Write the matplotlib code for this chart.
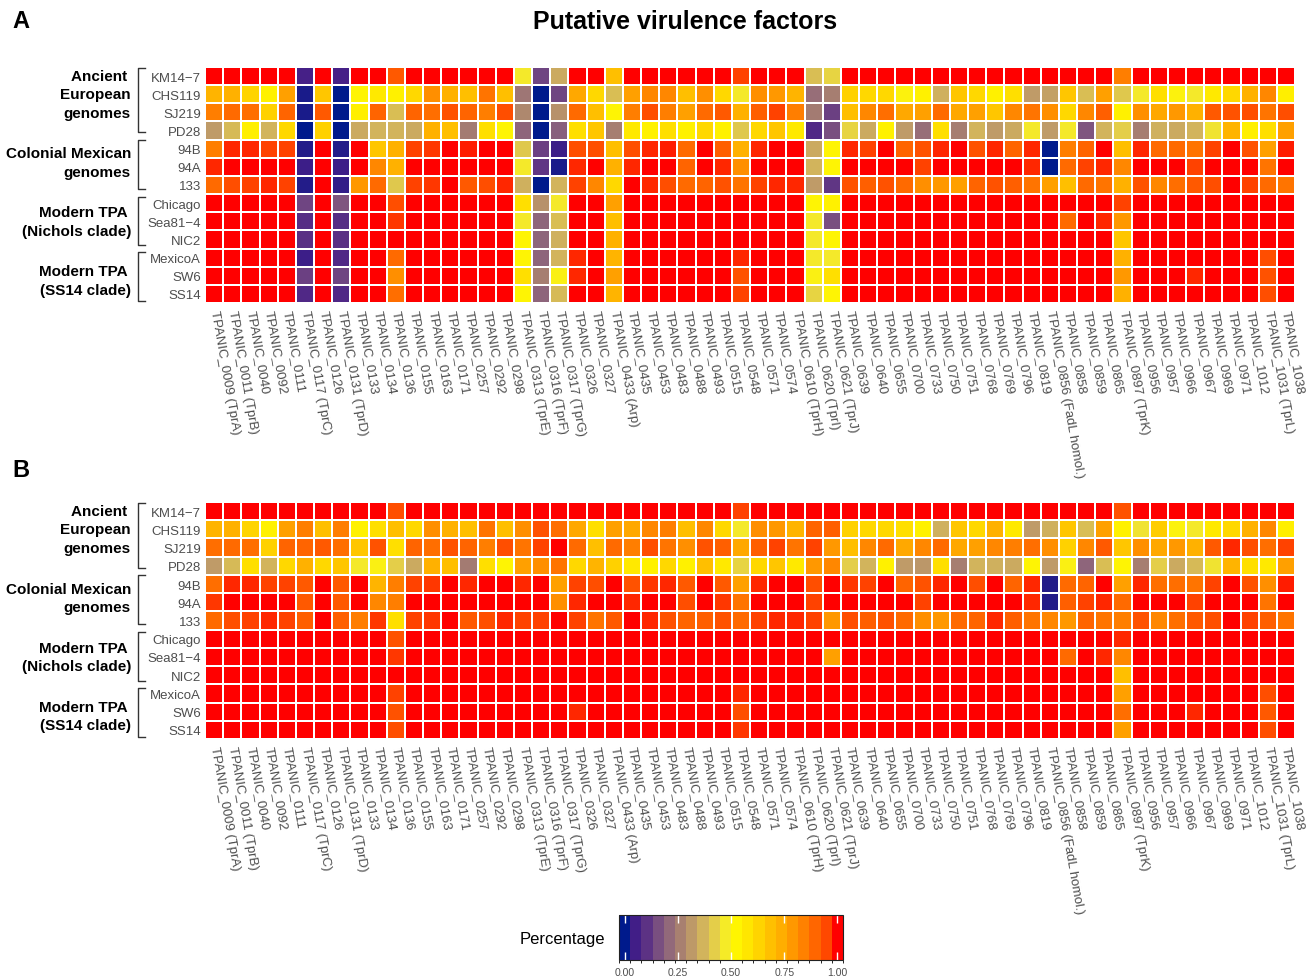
import numpy as np
import matplotlib
matplotlib.use("Agg")
import matplotlib.pyplot as plt
from matplotlib.colors import LinearSegmentedColormap, ListedColormap, BoundaryNorm
from matplotlib.transforms import blended_transform_factory
from matplotlib.cm import ScalarMappable

plt.rcParams['font.family'] = ['Liberation Sans', 'DejaVu Sans']

genes = ["TPANIC_0009 (TprA)", "TPANIC_0011 (TprB)", "TPANIC_0040", "TPANIC_0092", "TPANIC_0111",
         "TPANIC_0117 (TprC)", "TPANIC_0126", "TPANIC_0131 (TprD)", "TPANIC_0133", "TPANIC_0134",
         "TPANIC_0136", "TPANIC_0155", "TPANIC_0163", "TPANIC_0171", "TPANIC_0257",
         "TPANIC_0292", "TPANIC_0298", "TPANIC_0313 (TprE)", "TPANIC_0316 (TprF)", "TPANIC_0317 (TprG)",
         "TPANIC_0326", "TPANIC_0327", "TPANIC_0433 (Arp)", "TPANIC_0435", "TPANIC_0453",
         "TPANIC_0483", "TPANIC_0488", "TPANIC_0493", "TPANIC_0515", "TPANIC_0548",
         "TPANIC_0571", "TPANIC_0574", "TPANIC_0610 (TprH)", "TPANIC_0620 (TprI)", "TPANIC_0621 (TprJ)",
         "TPANIC_0639", "TPANIC_0640", "TPANIC_0655", "TPANIC_0700", "TPANIC_0733",
         "TPANIC_0750", "TPANIC_0751", "TPANIC_0768", "TPANIC_0769", "TPANIC_0796",
         "TPANIC_0819", "TPANIC_0856 (FadL homol.)", "TPANIC_0858", "TPANIC_0859", "TPANIC_0865",
         "TPANIC_0897 (TprK)", "TPANIC_0956", "TPANIC_0957", "TPANIC_0966", "TPANIC_0967",
         "TPANIC_0969", "TPANIC_0971", "TPANIC_1012", "TPANIC_1031 (TprL)", "TPANIC_1038"]

strains = ["KM14\u22127", "CHS119", "SJ219", "PD28", "94B", "94A", "133",
           "Chicago", "Sea81\u22124", "NIC2", "MexicoA", "SW6", "SS14"]

group_labels = ["Ancient \nEuropean\ngenomes", "Colonial Mexican\ngenomes",
                "Modern TPA \n(Nichols clade)", "Modern TPA \n(SS14 clade)"]

# percentage values (0-100), panel A
pct_A = [
    [100,100,100,100,100,6,100,6,100,100,92,100,100,100,100,
     100,100,47,14,35,100,100,69,100,100,100,100,100,100,95,
     100,100,100,39,43,100,100,100,100,100,100,100,100,100,100,
     100,100,100,100,100,85,100,100,100,100,100,100,100,100,100],
    [72,73,63,54,77,2,67,0,52,57,54,62,81,73,69,
     87,69,24,0,14,75,62,39,77,83,83,69,81,62,47,
     81,79,72,22,26,64,62,62,51,54,36,67,62,54,60,
     32,33,67,39,77,41,47,60,51,47,57,62,73,83,55],
    [85,89,88,64,90,2,92,0,55,90,39,90,88,93,90,
     85,94,28,0,30,89,69,52,85,94,85,77,89,92,73,
     91,95,85,25,13,69,83,88,75,77,89,75,77,67,83,
     87,81,62,83,91,54,81,75,79,73,92,93,94,87,94],
    [32,38,55,37,62,0,64,0,35,37,37,35,73,69,25,
     60,52,20,0,19,60,67,26,57,54,60,54,62,54,41,
     62,67,57,8,16,43,35,54,32,22,60,26,37,32,35,
     47,32,47,17,37,42,26,36,35,37,46,72,55,60,77],
    [85,97,97,95,95,3,100,3,100,67,73,95,96,100,98,
     100,100,41,13,5,94,94,69,94,97,98,89,100,91,73,
     97,100,100,35,52,97,95,100,90,93,97,100,93,97,90,
     97,0,85,90,100,69,97,89,89,87,95,100,93,77,98],
    [97,100,100,100,100,5,100,5,100,83,73,100,100,100,100,
     100,100,47,11,2,97,100,73,97,100,100,90,100,97,81,
     100,100,100,37,52,100,100,100,100,95,100,100,100,100,100,
     97,0,89,95,97,83,100,100,100,95,100,100,100,87,100],
    [89,94,95,97,95,3,100,4,79,89,41,95,96,100,92,
     94,97,36,0,37,95,83,62,100,97,94,89,90,93,87,
     95,97,97,32,11,93,91,93,89,81,79,77,90,93,91,
     87,77,69,89,87,73,93,83,88,92,94,100,95,89,87],
    [100,100,100,100,100,14,100,17,100,100,94,100,100,100,100,
     100,100,60,30,47,100,100,77,100,100,100,100,100,100,100,
     100,100,100,52,54,100,100,100,100,100,100,100,100,100,100,
     100,100,100,100,100,95,100,100,100,100,100,100,100,100,100],
    [100,100,100,100,100,9,100,9,100,100,96,100,100,100,100,
     100,100,47,20,39,100,100,69,100,100,100,100,100,100,100,
     100,100,100,47,16,100,100,100,100,100,100,100,100,100,100,
     100,100,89,100,97,79,100,100,100,100,100,100,100,100,100],
    [100,100,100,100,100,10,100,10,100,100,100,100,100,100,100,
     100,100,52,20,36,100,100,73,100,100,100,100,100,100,100,
     100,100,100,47,52,100,100,100,100,100,100,100,100,100,100,
     100,100,100,100,100,67,100,100,100,100,100,100,100,100,100],
    [100,100,100,100,100,5,100,8,100,100,89,100,100,100,100,
     100,100,52,20,37,97,100,72,100,100,100,100,100,100,97,
     100,100,100,47,47,100,100,100,100,100,100,100,100,100,100,
     100,100,100,100,100,73,100,100,100,100,100,100,100,94,100],
    [100,100,100,100,100,13,100,14,100,100,81,100,100,100,100,
     100,100,60,26,50,97,100,77,100,100,100,100,100,100,93,
     100,100,100,50,60,100,100,100,100,100,100,100,100,100,100,
     100,100,100,100,100,79,100,100,100,97,100,100,100,93,100],
    [100,100,100,100,100,8,100,8,100,100,88,100,100,100,100,
     100,100,52,20,38,100,100,72,100,100,100,100,100,100,95,
     100,100,100,43,52,100,100,100,100,100,100,100,100,100,100,
     100,100,100,100,100,73,100,100,100,100,100,100,100,94,100],
]

# percentage values (0-100), panel B
pct_B = [
    [100,100,100,100,100,100,100,100,100,100,94,100,100,100,100,
     100,100,100,100,100,100,100,100,100,100,100,100,100,100,95,
     100,100,100,100,100,100,100,100,100,100,100,100,100,100,100,
     100,100,100,100,100,93,100,100,100,100,100,100,100,100,100],
    [72,73,63,54,77,85,69,85,54,60,69,62,81,73,69,
     87,69,81,93,88,75,60,77,75,83,85,69,83,62,47,
     81,79,72,90,91,64,62,62,60,54,36,67,62,73,57,
     32,36,67,39,77,54,46,65,51,47,57,62,73,83,55],
    [88,89,88,64,90,90,92,88,67,93,60,90,88,93,90,
     85,94,87,95,100,89,69,89,85,94,87,81,93,91,75,
     91,95,87,95,79,69,83,89,75,83,89,75,77,83,85,
     88,81,64,83,92,67,81,75,79,73,92,97,94,88,95],
    [32,38,60,37,62,73,62,67,47,50,42,35,73,69,25,
     60,52,77,81,87,62,72,64,57,54,62,54,69,57,43,
     62,67,57,79,83,42,37,54,32,31,60,26,37,36,35,
     52,32,50,20,39,52,26,42,35,38,46,72,60,57,77],
    [88,97,97,95,95,92,100,92,100,72,85,95,96,100,97,
     100,100,97,100,77,95,94,100,93,96,97,92,100,92,77,
     97,100,100,94,100,96,95,100,90,93,97,100,94,100,90,
     97,3,89,90,100,77,97,88,88,87,95,100,93,81,98],
    [96,100,100,100,100,92,100,92,100,83,85,100,100,100,100,
     100,100,100,100,81,97,100,100,97,100,100,94,100,96,87,
     100,100,100,95,100,100,100,100,100,95,100,100,100,100,100,
     97,3,91,95,97,89,100,100,100,95,100,100,100,87,100],
    [89,94,95,97,95,91,100,91,85,96,60,95,96,100,92,
     94,97,95,95,100,95,87,92,100,97,93,90,91,93,89,
     95,97,97,95,79,94,91,93,89,81,79,89,90,97,91,
     87,83,79,90,87,85,93,83,88,92,94,100,95,91,87],
    [100,100,100,100,100,100,100,100,100,100,93,100,100,100,100,
     100,100,100,100,100,100,100,100,100,100,100,100,100,100,100,
     100,100,100,100,100,100,100,100,100,100,100,100,100,100,100,
     100,100,100,100,100,97,100,100,100,100,100,100,100,100,100],
    [100,100,100,100,100,100,100,100,100,100,96,100,100,100,100,
     100,100,100,100,100,100,100,100,100,100,100,100,100,100,100,
     100,100,100,100,77,100,100,100,100,100,100,100,100,100,100,
     100,100,89,100,97,83,100,100,100,100,100,100,100,100,100],
    [100,100,100,100,100,100,100,100,100,100,100,100,100,100,100,
     100,100,100,100,100,100,100,100,100,100,100,100,100,100,100,
     100,100,100,100,100,100,100,100,100,100,100,100,100,100,100,
     100,100,100,100,100,69,100,100,100,100,100,100,100,100,100],
    [100,100,100,100,100,100,100,100,100,100,95,100,100,100,100,
     100,100,100,100,100,100,100,100,100,100,100,100,100,100,97,
     100,100,100,100,100,100,100,100,100,100,100,100,100,100,100,
     100,100,100,100,100,77,100,100,100,100,100,100,100,94,100],
    [100,100,100,100,100,100,100,100,100,100,93,100,100,100,100,
     100,100,100,100,100,97,100,100,100,100,100,100,100,100,94,
     100,100,100,100,100,100,100,100,100,100,100,100,100,100,100,
     100,100,100,100,100,88,100,100,100,97,100,100,100,92,100],
    [100,100,100,100,100,100,100,100,100,100,94,100,100,100,100,
     100,100,100,100,100,100,100,100,100,100,100,100,100,100,96,
     100,100,100,100,100,100,100,100,100,100,100,100,100,100,100,
     100,100,100,100,100,77,100,100,100,100,100,100,100,94,100],
]

cbar_ticks = [0.0, 0.25, 0.5, 0.75, 1.0]

palette = ['#001A8C', '#431E87', '#5E3384', '#7A5080', '#936A7A', '#A88070', '#BE9A68',
           '#D2B45C', '#E4CF48', '#F5EB28', '#FFF500', '#FFE600', '#FFD400', '#FFC100',
           '#FFAE00', '#FF9900', '#FF8200', '#FF6800', '#FF4A00', '#FF0000']
cmap = LinearSegmentedColormap.from_list('pct', list(zip(np.linspace(0, 1, len(palette)), palette)))

# layout (row units) for group labels and brackets
label_y = [1.5, 5.25, 8.5, 11.75]
bracket_top = [0.05, 4.0, 7.15, 10.2]
bracket_bot = [3.6, 6.7, 9.8, 12.9]

W, H = 1309, 978
fig = plt.figure(figsize=(W / 100, H / 100), dpi=100)

LABEL_GRAY = '#4D4D4D'


def draw_panel(top_px, bottom_px, mat):
    ax = fig.add_axes([205 / W, 1 - bottom_px / H, (1295 - 205) / W, (bottom_px - top_px) / H])
    data = np.array(mat, dtype=float) / 100.0
    ax.pcolormesh(np.arange(len(genes) + 1), np.arange(len(strains) + 1), data,
                  cmap=cmap, vmin=0, vmax=1, edgecolors='white', linewidth=1.1)
    ax.set_xlim(0, len(genes))
    ax.set_ylim(len(strains), 0)
    ax.set_xticks(np.arange(len(genes)) + 0.5)
    ax.set_xticklabels(genes, rotation=-80, ha='left', va='center', rotation_mode='anchor',
                       fontsize=9.5, color=LABEL_GRAY)
    ax.set_yticks(np.arange(len(strains)) + 0.5)
    ax.set_yticklabels(strains, fontsize=9.5, color=LABEL_GRAY)
    ax.tick_params(length=0)
    ax.tick_params(axis='x', pad=5)
    ax.tick_params(axis='y', pad=3)
    for s in ax.spines.values():
        s.set_visible(False)
    trans = blended_transform_factory(fig.transFigure, ax.transData)
    for lab, ly, y0, y1 in zip(group_labels, label_y, bracket_top, bracket_bot):
        ax.text(131 / W, ly, lab, transform=trans, ha='right', va='center',
                multialignment='right', fontsize=11, fontweight='bold', linespacing=1.4,
                color='black')
        xs = [145 / W, 138 / W, 138 / W, 145 / W]
        ys = [y0, y0, y1, y1]
        ax.plot(xs, ys, transform=trans, color='#333333', lw=1.0, clip_on=False)
    return ax


axA = draw_panel(68, 304, pct_A)
axB = draw_panel(503, 740, pct_B)

fig.text(12 / W, 1 - 28 / H, 'A', fontsize=17, fontweight='bold', va='baseline', ha='left')
fig.text(12 / W, 1 - 477 / H, 'B', fontsize=17, fontweight='bold', va='baseline', ha='left')
fig.text(685 / W, 1 - 29 / H, 'Putative virulence factors', fontsize=18, fontweight='bold',
         va='baseline', ha='center')

# colour bar
cax = fig.add_axes([619 / W, 1 - 961 / H, 224 / W, 45 / H])
nbin = 20
centers = np.arange(nbin) / (nbin - 1)
bounds = (np.arange(nbin + 1) - 0.5) / (nbin - 1)
lcmap = ListedColormap(cmap(centers))
norm = BoundaryNorm(bounds, nbin)
cb = fig.colorbar(ScalarMappable(norm=norm, cmap=lcmap), cax=cax, orientation='horizontal',
                  ticks=cbar_ticks, format='%.2f')
cb.outline.set_edgecolor('#222222')
cb.outline.set_linewidth(0.8)
cax.tick_params(direction='in', color='white', length=6, width=1.0, top=True, bottom=True,
                labelsize=7.5, labelcolor=LABEL_GRAY, pad=5)
fig.text(605 / W, 1 - 940 / H, 'Percentage', ha='right', va='center', fontsize=12)

fig.savefig('out.png', dpi=100)
